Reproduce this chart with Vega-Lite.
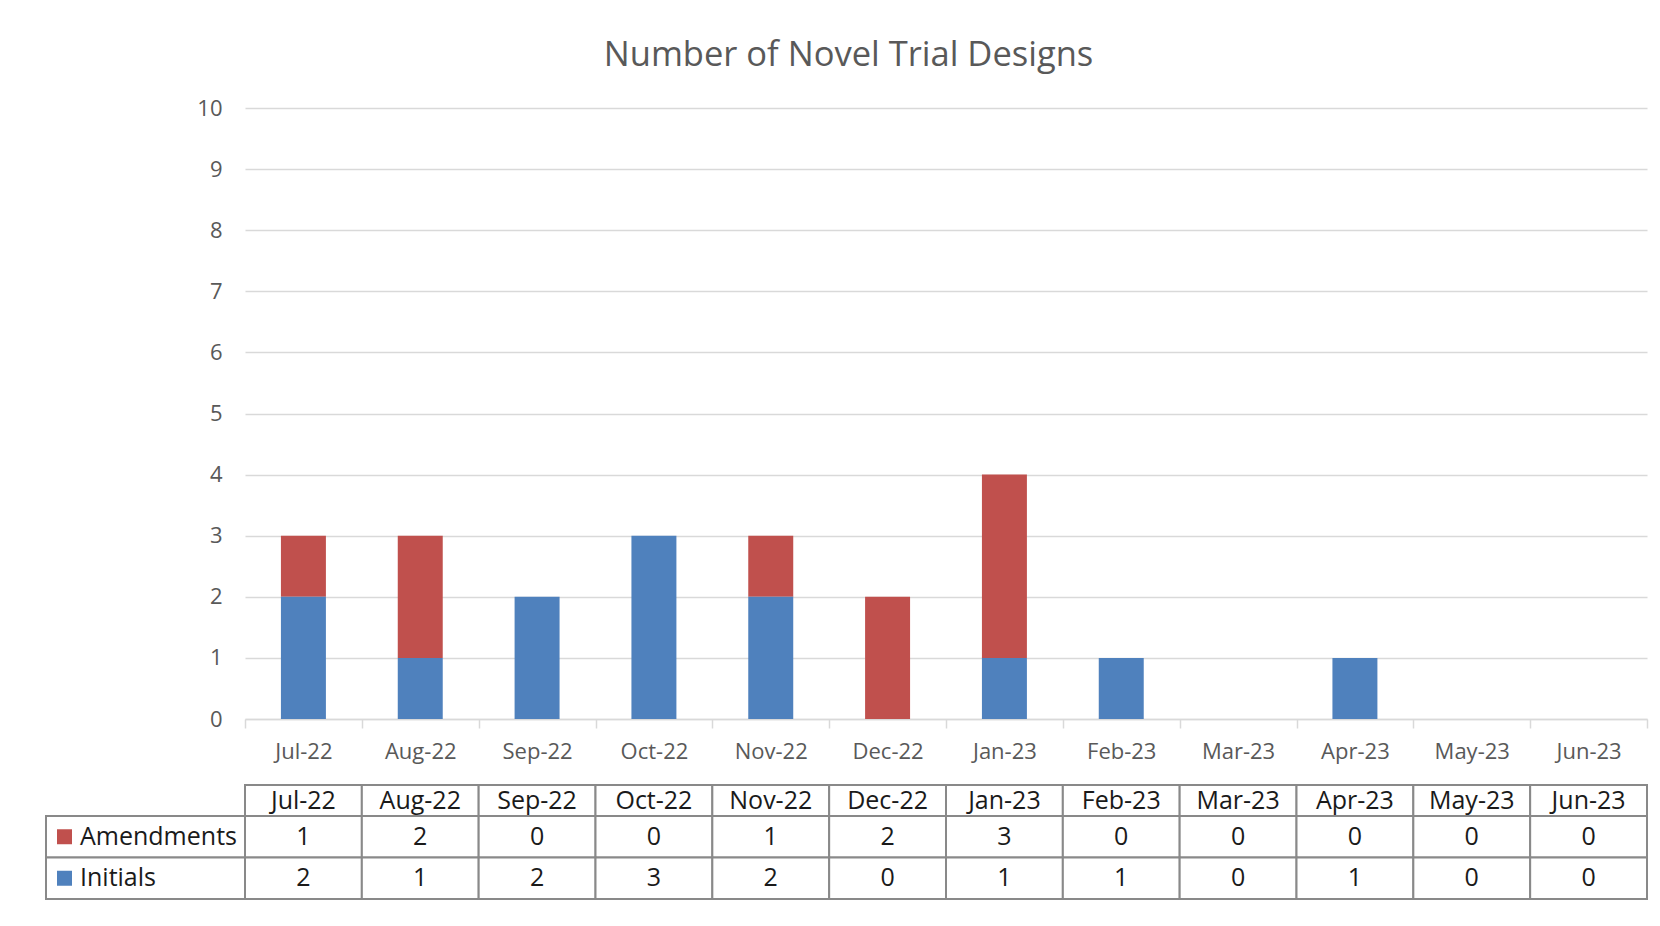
{
  "$schema": "https://vega.github.io/schema/vega-lite/v6.json",
  "background": "white",
  "padding": {"left": 45, "top": 37, "right": 8, "bottom": 8},
  "title": {"text": "Number of Novel Trial Designs", "font": "Open Sans", "fontSize": 34.5, "fontWeight": "normal", "color": "#595959", "anchor": "middle", "offset": 24, "dx": 2},
  "data": {"values": [
    {"month": "Jul-22", "series": "Amendments", "count": 1},
    {"month": "Aug-22", "series": "Amendments", "count": 2},
    {"month": "Sep-22", "series": "Amendments", "count": 0},
    {"month": "Oct-22", "series": "Amendments", "count": 0},
    {"month": "Nov-22", "series": "Amendments", "count": 1},
    {"month": "Dec-22", "series": "Amendments", "count": 2},
    {"month": "Jan-23", "series": "Amendments", "count": 3},
    {"month": "Feb-23", "series": "Amendments", "count": 0},
    {"month": "Mar-23", "series": "Amendments", "count": 0},
    {"month": "Apr-23", "series": "Amendments", "count": 0},
    {"month": "May-23", "series": "Amendments", "count": 0},
    {"month": "Jun-23", "series": "Amendments", "count": 0},
    {"month": "Jul-22", "series": "Initials", "count": 2},
    {"month": "Aug-22", "series": "Initials", "count": 1},
    {"month": "Sep-22", "series": "Initials", "count": 2},
    {"month": "Oct-22", "series": "Initials", "count": 3},
    {"month": "Nov-22", "series": "Initials", "count": 2},
    {"month": "Dec-22", "series": "Initials", "count": 0},
    {"month": "Jan-23", "series": "Initials", "count": 1},
    {"month": "Feb-23", "series": "Initials", "count": 1},
    {"month": "Mar-23", "series": "Initials", "count": 0},
    {"month": "Apr-23", "series": "Initials", "count": 1},
    {"month": "May-23", "series": "Initials", "count": 0},
    {"month": "Jun-23", "series": "Initials", "count": 0}
  ]},
  "spacing": 22,
  "resolve": {"scale": {"x": "independent", "y": "independent"}},
  "vconcat": [
    {
      "width": 1402,
      "height": 611,
      "mark": {"type": "bar", "width": {"band": 0.385}},
      "encoding": {
        "x": {
          "field": "month", "type": "nominal",
          "scale": {"domain": ["Jul-22","Aug-22","Sep-22","Oct-22","Nov-22","Dec-22","Jan-23","Feb-23","Mar-23","Apr-23","May-23","Jun-23"], "paddingInner": 0, "paddingOuter": 0},
          "axis": {"title": null, "labelAngle": 0, "labelFont": "Open Sans", "labelFontSize": 22, "labelColor": "#595959", "labelPadding": 13, "domainColor": "#d9d9d9", "domainWidth": 1.5, "tickColor": "#d9d9d9", "tickWidth": 1.5, "tickSize": 9, "tickBand": "extent", "grid": false}
        },
        "y": {
          "field": "count", "type": "quantitative", "stack": "zero",
          "scale": {"domain": [0, 10], "nice": false},
          "axis": {"title": null, "values": [0,1,2,3,4,5,6,7,8,9,10], "grid": true, "gridColor": "#d9d9d9", "gridWidth": 1.5, "domain": false, "ticks": false, "tickSize": 0, "labelPadding": 23, "labelFont": "Open Sans", "labelFontSize": 22, "labelColor": "#595959"}
        },
        "color": {"field": "series", "type": "nominal", "scale": {"domain": ["Amendments", "Initials"], "range": ["#c0504d", "#4f81bd"]}, "legend": null},
        "order": {"field": "series", "sort": "descending"}
      }
    },
    {
      "width": 1402,
      "height": 114,
      "resolve": {"scale": {"x": "independent", "y": "independent"}},
      "layer": [
        {
          "transform": [{"filter": "datum.series === 'Initials'"}],
          "mark": {"type": "rect", "fill": "white", "stroke": "#898989", "strokeWidth": 2},
          "encoding": {
            "x": {"field": "month", "type": "nominal", "scale": {"domain": ["Jul-22","Aug-22","Sep-22","Oct-22","Nov-22","Dec-22","Jan-23","Feb-23","Mar-23","Apr-23","May-23","Jun-23"], "paddingInner": 0, "paddingOuter": 0}, "axis": null},
            "y": {"datum": "header", "type": "nominal", "scale": {"domain": ["header"], "range": [0, 31], "paddingInner": 0, "paddingOuter": 0}, "axis": null}
          }
        },
        {
          "transform": [{"filter": "datum.series === 'Initials'"}],
          "mark": {"type": "text", "font": "Open Sans", "fontSize": 25, "color": "#1a1a1a", "baseline": "middle", "align": "center"},
          "encoding": {
            "x": {"field": "month", "type": "nominal", "scale": {"domain": ["Jul-22","Aug-22","Sep-22","Oct-22","Nov-22","Dec-22","Jan-23","Feb-23","Mar-23","Apr-23","May-23","Jun-23"], "paddingInner": 0, "paddingOuter": 0}, "axis": null},
            "y": {"datum": "header", "type": "nominal", "scale": {"domain": ["header"], "range": [0, 31], "paddingInner": 0, "paddingOuter": 0}, "axis": null},
            "text": {"field": "month"}
          }
        },
        {
          "mark": {"type": "rect", "fill": "white", "stroke": "#898989", "strokeWidth": 2},
          "encoding": {
            "x": {"field": "month", "type": "nominal", "scale": {"domain": ["Jul-22","Aug-22","Sep-22","Oct-22","Nov-22","Dec-22","Jan-23","Feb-23","Mar-23","Apr-23","May-23","Jun-23"], "paddingInner": 0, "paddingOuter": 0}, "axis": null},
            "y": {"field": "series", "type": "nominal", "scale": {"domain": ["Amendments", "Initials"], "range": [31, 114], "paddingInner": 0, "paddingOuter": 0}, "axis": null}
          }
        },
        {
          "mark": {"type": "text", "font": "Open Sans", "fontSize": 25, "color": "#1a1a1a", "baseline": "middle", "align": "center"},
          "encoding": {
            "x": {"field": "month", "type": "nominal", "scale": {"domain": ["Jul-22","Aug-22","Sep-22","Oct-22","Nov-22","Dec-22","Jan-23","Feb-23","Mar-23","Apr-23","May-23","Jun-23"], "paddingInner": 0, "paddingOuter": 0}, "axis": null},
            "y": {"field": "series", "type": "nominal", "scale": {"domain": ["Amendments", "Initials"], "range": [31, 114], "paddingInner": 0, "paddingOuter": 0}, "axis": null},
            "text": {"field": "count", "type": "quantitative"}
          }
        },
        {
          "transform": [{"filter": "datum.month === 'Jul-22'"}],
          "mark": {"type": "rect", "fill": "white", "stroke": "#898989", "strokeWidth": 2},
          "encoding": {
            "x": {"datum": "legend", "type": "nominal", "scale": {"domain": ["legend"], "range": [-199, 0], "paddingInner": 0, "paddingOuter": 0}, "axis": null},
            "y": {"field": "series", "type": "nominal", "scale": {"domain": ["Amendments", "Initials"], "range": [31, 114], "paddingInner": 0, "paddingOuter": 0}, "axis": null}
          }
        },
        {
          "transform": [{"filter": "datum.month === 'Jul-22'"}],
          "mark": {"type": "point", "shape": "square", "filled": true, "size": 225, "opacity": 1, "strokeWidth": 0},
          "encoding": {
            "x": {"datum": "swatch", "type": "nominal", "scale": {"type": "point", "domain": ["swatch", "label"], "range": [-180.5, -165], "padding": 0}, "axis": null},
            "y": {"field": "series", "type": "nominal", "scale": {"domain": ["Amendments", "Initials"], "range": [31, 114], "paddingInner": 0, "paddingOuter": 0}, "axis": null},
            "color": {"field": "series", "type": "nominal", "scale": {"domain": ["Amendments", "Initials"], "range": ["#c0504d", "#4f81bd"]}, "legend": null}
          }
        },
        {
          "transform": [{"filter": "datum.month === 'Jul-22'"}],
          "mark": {"type": "text", "font": "Open Sans", "fontSize": 25, "color": "#1a1a1a", "baseline": "middle", "align": "left"},
          "encoding": {
            "x": {"datum": "label", "type": "nominal", "scale": {"type": "point", "domain": ["swatch", "label"], "range": [-180.5, -165], "padding": 0}, "axis": null},
            "y": {"field": "series", "type": "nominal", "scale": {"domain": ["Amendments", "Initials"], "range": [31, 114], "paddingInner": 0, "paddingOuter": 0}, "axis": null},
            "text": {"field": "series"}
          }
        }
      ]
    }
  ],
  "config": {"view": {"stroke": null}, "font": "Open Sans"}
}
